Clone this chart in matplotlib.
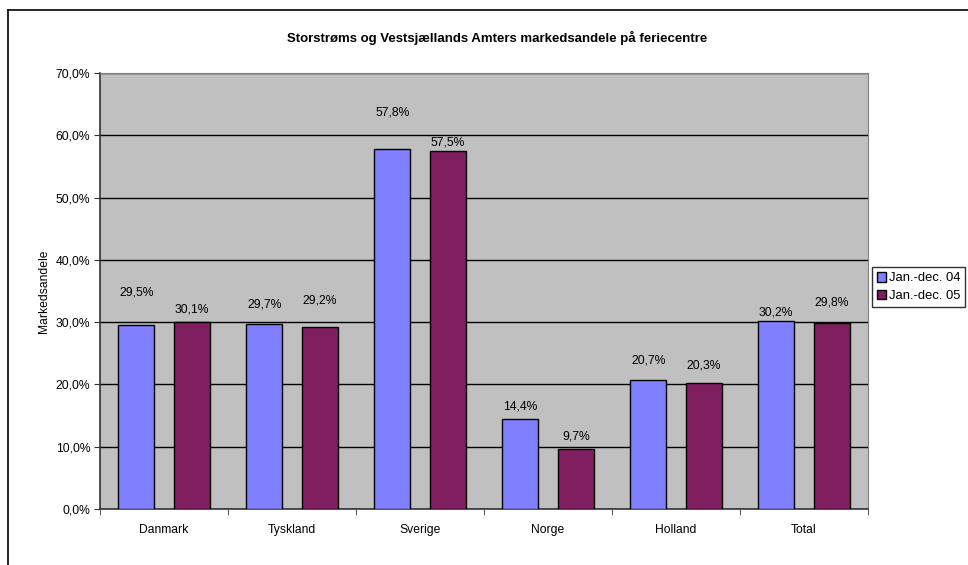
import matplotlib.pyplot as plt
import matplotlib.lines as mlines
import numpy as np

plt.rcParams['font.family'] = ['Liberation Sans', 'DejaVu Sans']

# data
categories = ["Danmark", "Tyskland", "Sverige", "Norge", "Holland", "Total"]
series_names = ["Jan.-dec. 04", "Jan.-dec. 05"]
share_04 = [29.5, 29.7, 57.8, 14.4, 20.7, 30.2]
share_05 = [30.1, 29.2, 57.5, 9.7, 20.3, 29.8]

# where the value labels sit (data units, as placed in the original)
label_y_04 = [34.8, 32.9, 63.7, 16.5, 23.8, 31.6]
label_y_05 = [32.1, 33.4, 58.8, 11.6, 23.1, 33.1]

colors = ["#8080FF", "#7F1F5F"]

fig = plt.figure(figsize=(9.68, 5.65), dpi=100)
ax = fig.add_axes([100/968, 56/565, 768/968, 436/565])
ax.set_facecolor("#C0C0C0")

x = np.arange(len(categories))
w = 0.28
off = 0.217
ax.bar(x - off, share_04, w, color=colors[0], edgecolor="black", linewidth=1, zorder=3, label=series_names[0])
ax.bar(x + off, share_05, w, color=colors[1], edgecolor="black", linewidth=1, zorder=3, label=series_names[1])

def fmt(v):
    return f"{v:.1f}%".replace(".", ",")

for i in range(len(categories)):
    ax.text(x[i] - off, label_y_04[i], fmt(share_04[i]), ha="center", va="center", fontsize=8.7)
    ax.text(x[i] + off, label_y_05[i], fmt(share_05[i]), ha="center", va="center", fontsize=8.7)

ax.set_xlim(-0.5, len(categories) - 0.5)
ax.set_ylim(0, 70)
ax.set_yticks(np.arange(0, 71, 10))
ax.set_yticklabels([fmt(v) for v in np.arange(0, 71, 10)], fontsize=8.7)
ax.yaxis.grid(True, color="black", linewidth=1, zorder=1)
ax.set_axisbelow(True)

# category labels centered, ticks on boundaries
ax.set_xticks(x)
ax.set_xticklabels(categories, fontsize=8.7)
ax.tick_params(axis="x", which="major", length=0, pad=11)
ax.set_xticks(np.arange(-0.5, len(categories)), minor=True)
ax.tick_params(axis="x", which="minor", length=4, direction="out", color="#333333")
ax.tick_params(axis="y", length=4, direction="out", color="#333333", pad=3)

for s in ["top", "right"]:
    ax.spines[s].set_color("#808080")
for s in ["left", "bottom"]:
    ax.spines[s].set_color("#333333")
    ax.spines[s].set_linewidth(1.2)

ax.set_ylabel("Markedsandele", fontsize=8.7, labelpad=4)
fig.text(497/968, 1 - 38/565, "Storstrøms og Vestsjællands Amters markedsandele på feriecentre",
         ha="center", va="center", fontsize=9.5, fontweight="bold")

leg = ax.legend(loc="center left", bbox_to_anchor=(872/968, 1 - 287/565), bbox_transform=fig.transFigure,
                fontsize=9.4, frameon=True, fancybox=False, edgecolor="black", handlelength=0.75,
                handleheight=0.75, handletextpad=0.2, borderpad=0.35, labelspacing=0.4, borderaxespad=0)
leg.get_frame().set_linewidth(1)

# chart-area border (top and left edges visible in the crop)
fig.add_artist(mlines.Line2D([8/968, 1], [1 - 10/565, 1 - 10/565], transform=fig.transFigure, color="black", linewidth=1.2))
fig.add_artist(mlines.Line2D([8/968, 8/968], [0, 1 - 10/565], transform=fig.transFigure, color="black", linewidth=1.2))

fig.savefig("out.png", dpi=100)
